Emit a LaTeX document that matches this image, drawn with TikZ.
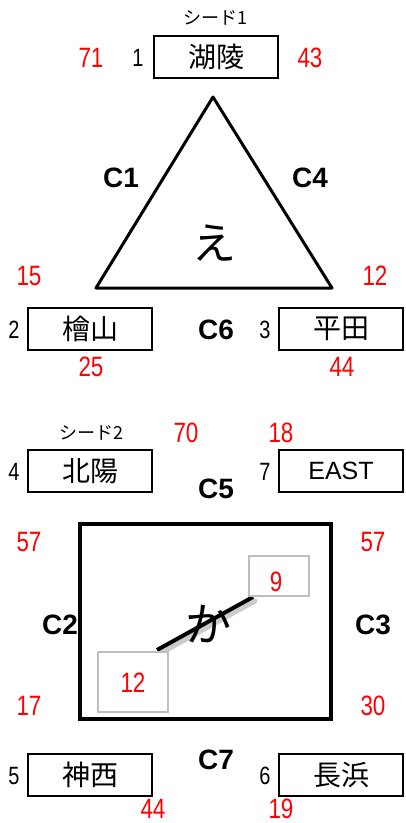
\documentclass[tikz,border=0pt]{standalone}
\usepackage{fontspec}
\setmainfont{Liberation Sans}
\newfontfamily\jp{Noto Sans CJK JP}
\newfontfamily\numfont[FakeStretch=0.8]{Liberation Sans}
\definecolor{scorered}{RGB}{255,0,0}
\definecolor{lightgray}{RGB}{190,190,190}
\begin{document}
\begin{tikzpicture}[x=1pt,y=-1pt,
  team/.style={draw,line width=2.5pt,minimum width=124pt,minimum height=42pt,inner sep=0pt,font=\jp\fontsize{28}{28}\selectfont},
  score/.style={text=scorered,font=\numfont\fontsize{28}{28}\selectfont,inner sep=0pt},
  seednum/.style={font=\numfont\fontsize{25}{25}\selectfont,inner sep=0pt},
  court/.style={font=\bfseries\fontsize{28}{28}\selectfont,inner sep=0pt},
  seedlbl/.style={font=\jp\fontsize{18}{18}\selectfont,inner sep=0pt},
  small/.style={draw=lightgray,line width=1.2pt,fill=white,inner sep=0pt}]
\useasboundingbox (0,0) rectangle (405,823);
% top block
\node[seedlbl] (s1) at (215,18) {シード1};
\node[team] (t1) at (216,57) {湖陵};
\node[seednum] (n1) at (138,58) {1};
\node[score] (a71) at (91,58) {71};
\node[score] (a43) at (310,58) {43};
\coordinate (ta) at (213,97);
\coordinate (tl) at (96,288);
\coordinate (tr) at (332,288);
\draw[line width=3pt,line join=round] (ta) -- (tr) -- (tl) -- cycle;
\node[court] (c1) at (121,178) {C1};
\node[court] (c4) at (310,178) {C4};
\node[font=\jp\fontsize{44}{44}\selectfont,inner sep=0pt] (e) at (214,243) {え};
\node[score] (a15) at (29,276) {15};
\node[score] (a12) at (375,276) {12};
\node[team] (t2) at (90,329) {檜山};
\node[seednum] (n2) at (14,330) {2};
\node[score] (a25) at (91,367) {25};
\node[court] (c6) at (216,330) {C6};
\node[seednum] (n3) at (265,330) {3};
\node[team] (t3) at (341,329) {平田};
\node[score] (a44) at (342,367) {44};
% bottom block
\node[seedlbl] (s2) at (91,433) {シード2};
\node[score] (a70) at (186,433) {70};
\node[score] (a18) at (281,433) {18};
\node[team] (t4) at (90,471) {北陽};
\node[seednum] (n4) at (14,472) {4};
\node[court] (c5) at (216,489) {C5};
\node[seednum] (n7) at (265,472) {7};
\node[team,font=\fontsize{25}{25}\selectfont] (t7) at (341,471) {EAST};
\node[draw,line width=4pt,minimum width=251pt,minimum height=195pt,inner sep=0pt] (big) at (205.5,621.5) {};
\node[score] (b57l) at (29,542) {57};
\node[score] (b57r) at (373,542) {57};
\node[court] (c2) at (60,625) {C2};
\node[court] (c3) at (373,625) {C3};
\node[score] (b17) at (29,706) {17};
\node[score] (b30) at (373,706) {30};
\coordinate (la) at (157,650);
\coordinate (lb) at (253,597);
\draw[line width=5pt,black!20,line cap=round] ([shift={(2,4)}]la) -- ([shift={(2,4)}]lb);
\draw[line width=4pt] (la) -- (lb);
\node[small,minimum width=60pt,minimum height=40pt] (g9) at (279,576) {};
\node[score] at (276,582) {9};
\node[small,minimum width=70pt,minimum height=60pt] (g12) at (133,682) {};
\node[score] at (133,683) {12};
\node[font=\jp\fontsize{46}{46}\selectfont,inner sep=0pt] (ka) at (208,624) {か};
\node[court] (c7) at (216,760) {C7};
\node[team] (t5) at (90,775) {神西};
\node[seednum] (n5) at (14,776) {5};
\node[score] (c44) at (153,809) {44};
\node[seednum] (n6) at (265,776) {6};
\node[team] (t6) at (341,775) {長浜};
\node[score] (c19) at (281,809) {19};
\end{tikzpicture}
\end{document}
